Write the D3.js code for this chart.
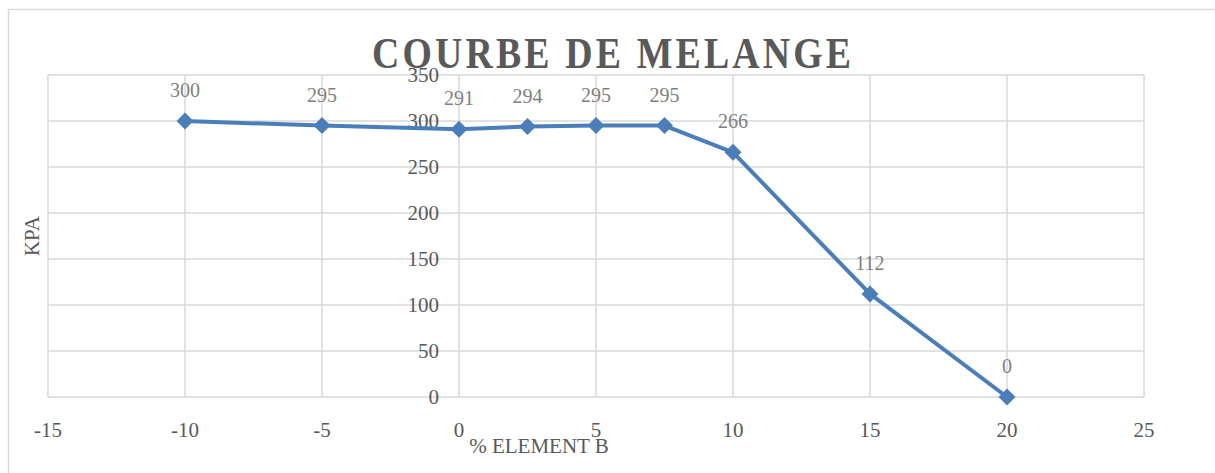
<!DOCTYPE html>
<html>
<head>
<meta charset="utf-8">
<script src="https://cdn.jsdelivr.net/npm/d3@7"></script>
<style>
  body { margin: 0; background: #fff; }
  svg text { font-family: "Liberation Serif", "DejaVu Serif", serif; }
</style>
</head>
<body>
<div id="chart"></div>
<script>
// data
const xValues = [-10, -5, 0, 2.5, 5, 7.5, 10, 15, 20];
const kpa = [300, 295, 291, 294, 295, 295, 266, 112, 0];
const xTicks = [-15, -10, -5, 0, 5, 10, 15, 20, 25];
const yTicks = [0, 50, 100, 150, 200, 250, 300, 350];

const width = 1215, height = 473;
const margin = { top: 75, right: 71, bottom: 76, left: 48 };

const svg = d3.select("#chart")
  .append("svg")
  .attr("width", width)
  .attr("height", height);

// outer chart border
svg.append("rect")
  .attr("x", 8.5).attr("y", 9.5)
  .attr("width", width).attr("height", height)
  .attr("fill", "none")
  .attr("stroke", "#d9d9d9")
  .attr("stroke-width", 1.5);

const x = d3.scaleLinear().domain([-15, 25]).range([margin.left, width - margin.right]);
const y = d3.scaleLinear().domain([0, 350]).range([height - margin.bottom, margin.top]);

// gridlines
const grid = svg.append("g").attr("stroke", "#d9d9d9").attr("stroke-width", 1.5);
grid.selectAll(".gx")
  .data(xTicks)
  .join("line")
  .attr("x1", (d) => x(d)).attr("x2", (d) => x(d))
  .attr("y1", y(0)).attr("y2", y(350));
grid.selectAll(".gy")
  .data(yTicks)
  .join("line")
  .attr("x1", x(-15)).attr("x2", x(25))
  .attr("y1", (d) => y(d)).attr("y2", (d) => y(d));

// title (condensed glyphs, letter spaced)
svg.append("text")
  .attr("transform", "translate(372,68) scale(0.86,1)")
  .attr("textLength", 479 / 0.86)
  .attr("lengthAdjust", "spacing")
  .attr("font-size", 44)
  .attr("font-weight", "bold")
  .attr("fill", "#595959")
  .text("COURBE DE MELANGE");

// x tick labels
svg.append("g")
  .selectAll("text")
  .data(xTicks)
  .join("text")
  .attr("x", (d) => x(d))
  .attr("y", 437)
  .attr("text-anchor", "middle")
  .attr("font-size", 21)
  .attr("fill", "#595959")
  .text((d) => d);

// y tick labels, next to the axis at x = 0
svg.append("g")
  .selectAll("text")
  .data(yTicks)
  .join("text")
  .attr("x", x(0) - 20)
  .attr("y", (d) => y(d) + 7)
  .attr("text-anchor", "end")
  .attr("font-size", 21)
  .attr("fill", "#595959")
  .text((d) => d);

// axis titles
svg.append("text")
  .attr("x", 539).attr("y", 453)
  .attr("text-anchor", "middle")
  .attr("font-size", 21)
  .attr("fill", "#595959")
  .text("% ELEMENT B");

svg.append("text")
  .attr("transform", `translate(39, ${(y(0) + y(350)) / 2}) rotate(-90)`)
  .attr("text-anchor", "middle")
  .attr("font-size", 21)
  .attr("fill", "#595959")
  .text("KPA");

// series
const points = xValues.map((v, i) => ({ x: v, y: kpa[i] }));
const color = "#4a7ebb";

svg.append("path")
  .datum(points)
  .attr("fill", "none")
  .attr("stroke", color)
  .attr("stroke-width", 4)
  .attr("stroke-linejoin", "round")
  .attr("d", d3.line().x((d) => x(d.x)).y((d) => y(d.y)));

svg.append("g")
  .selectAll("path")
  .data(points)
  .join("path")
  .attr("transform", (d) => `translate(${x(d.x)},${y(d.y)})`)
  .attr("d", "M0,-8.5L8.5,0L0,8.5L-8.5,0Z")
  .attr("fill", color);

// data labels
svg.append("g")
  .selectAll("text")
  .data(points)
  .join("text")
  .attr("x", (d) => x(d.x))
  .attr("y", (d) => y(d.y) - 24)
  .attr("text-anchor", "middle")
  .attr("font-size", 20)
  .attr("fill", "#808080")
  .text((d) => d.y);
</script>
</body>
</html>
